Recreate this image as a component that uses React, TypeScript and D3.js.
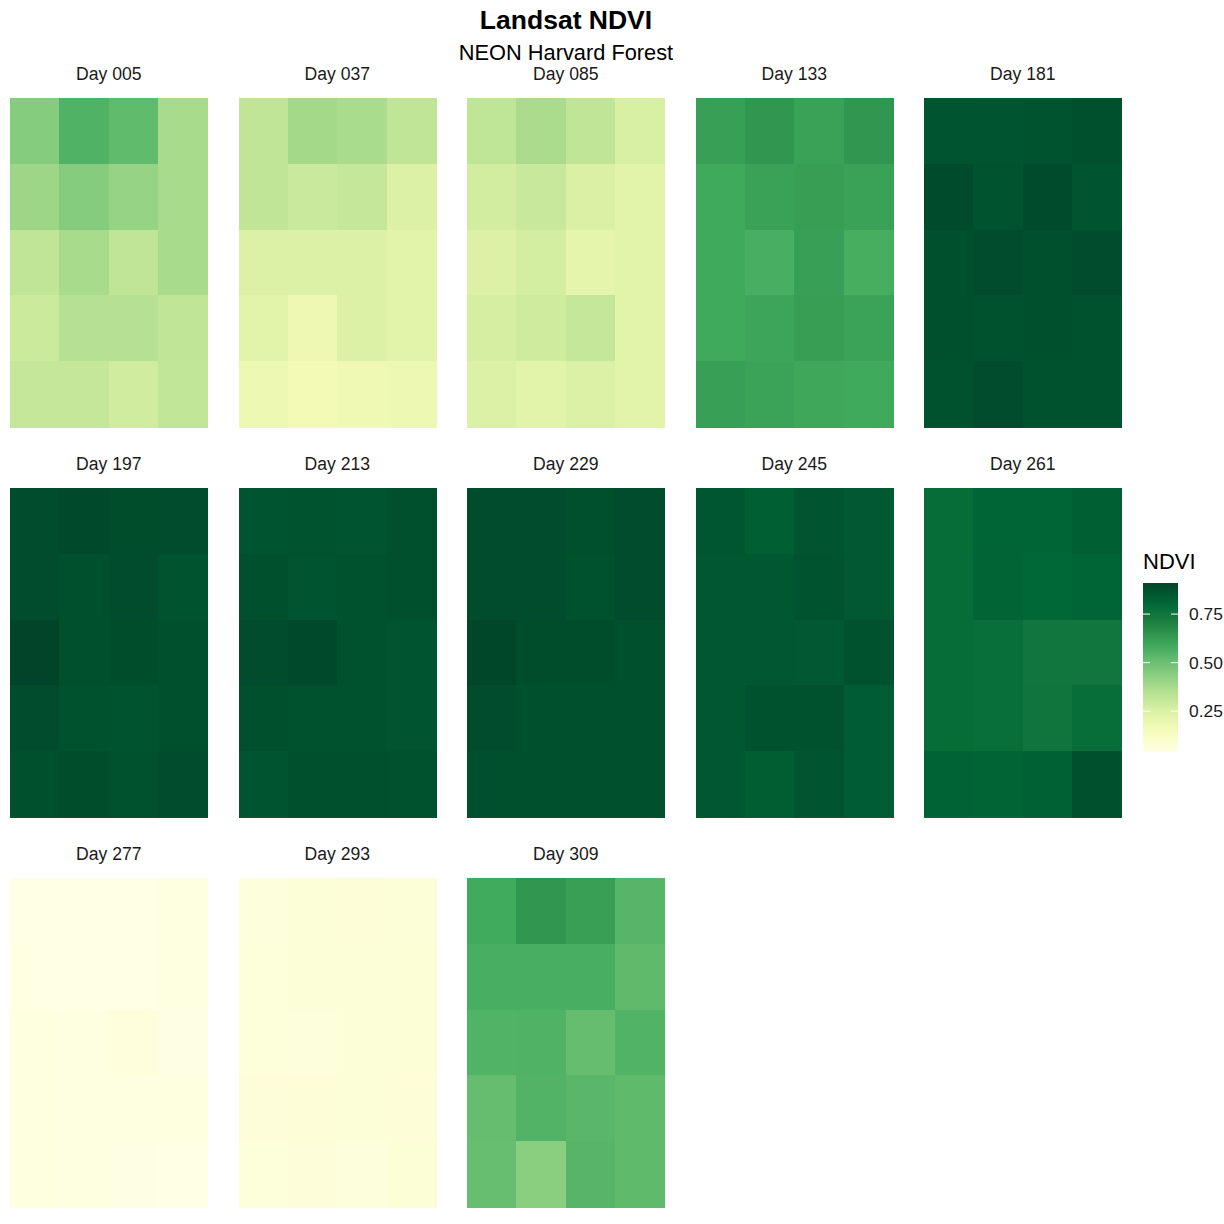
import React from "react";
import * as d3 from "d3";

const days = ["Day 005","Day 037","Day 085","Day 133","Day 181","Day 197","Day 213","Day 229","Day 245","Day 261","Day 277","Day 293","Day 309"];

// each panel: 5 rows (top to bottom) x 4 columns
const day005 = [[0.446,0.554,0.52,0.376],[0.40,0.446,0.413,0.376],[0.32,0.376,0.32,0.376],[0.293,0.344,0.344,0.32],[0.307,0.307,0.28,0.314]];
const day037 = [[0.32,0.385,0.372,0.32],[0.32,0.296,0.307,0.244],[0.25,0.25,0.247,0.225],[0.225,0.182,0.247,0.225],[0.185,0.167,0.174,0.185]];
const day085 = [[0.322,0.37,0.318,0.26],[0.275,0.30,0.255,0.225],[0.248,0.27,0.211,0.225],[0.267,0.285,0.307,0.225],[0.25,0.225,0.25,0.225]];
const day133 = [[0.615,0.643,0.609,0.643],[0.587,0.609,0.62,0.609],[0.59,0.57,0.615,0.572],[0.59,0.60,0.62,0.607],[0.615,0.607,0.595,0.59]];
const day181 = [[0.86,0.863,0.866,0.875],[0.89,0.866,0.89,0.86],[0.875,0.887,0.875,0.887],[0.876,0.874,0.876,0.874],[0.872,0.887,0.872,0.872]];
const day197 = [[0.887,0.895,0.884,0.887],[0.887,0.875,0.887,0.866],[0.91,0.875,0.884,0.878],[0.887,0.872,0.866,0.878],[0.88,0.884,0.872,0.887]];
const day213 = [[0.86,0.866,0.86,0.88],[0.875,0.863,0.869,0.88],[0.887,0.894,0.872,0.863],[0.88,0.872,0.872,0.863],[0.863,0.878,0.878,0.872]];
const day229 = [[0.887,0.887,0.88,0.887],[0.887,0.887,0.869,0.887],[0.905,0.884,0.884,0.878],[0.887,0.88,0.88,0.88],[0.878,0.878,0.878,0.879]];
const day245 = [[0.857,0.83,0.863,0.848],[0.851,0.851,0.866,0.848],[0.851,0.851,0.848,0.869],[0.851,0.872,0.872,0.84],[0.851,0.833,0.86,0.84]];
const day261 = [[0.783,0.81,0.81,0.83],[0.783,0.815,0.80,0.81],[0.783,0.775,0.748,0.748],[0.783,0.777,0.75,0.78],[0.818,0.815,0.823,0.878]];
const day277 = [[0.040,0.041,0.043,0.050],[0.042,0.043,0.046,0.050],[0.055,0.052,0.060,0.048],[0.058,0.050,0.052,0.055],[0.056,0.053,0.047,0.046]];
const day293 = [[0.065,0.075,0.072,0.075],[0.068,0.075,0.075,0.08],[0.068,0.062,0.075,0.077],[0.07,0.072,0.075,0.072],[0.068,0.07,0.065,0.078]];
const day309 = [[0.584,0.64,0.616,0.543],[0.57,0.57,0.57,0.524],[0.552,0.556,0.511,0.552],[0.511,0.55,0.535,0.524],[0.508,0.438,0.543,0.524]];

const panels = [day005, day037, day085, day133, day181, day197, day213, day229, day245, day261, day277, day293, day309];

const legendTicks = [0.25, 0.5, 0.75];
const ylgn = ["#ffffe5","#f7fcb9","#d9f0a3","#addd8e","#78c679","#41ab5d","#238443","#006837","#004529"];
const vMin = 0.04;
const vMax = 0.91;

const FONT = "'Liberation Sans', Arial, Helvetica, sans-serif";

export default function App() {
  const W = 1224, H = 1224;
  const color = d3.scaleLinear<string>()
    .domain(ylgn.map((_, i) => vMin + (i / (ylgn.length - 1)) * (vMax - vMin)))
    .range(ylgn)
    .interpolate(d3.interpolateRgb)
    .clamp(true);

  const panelW = 197.6, panelH = 329;
  const colStep = 228.5, rowStep = 390;
  const x0 = 10, y0 = 98;
  const xb = d3.scaleBand<number>().domain([0, 1, 2, 3]).range([0, panelW]).padding(0);
  const yb = d3.scaleBand<number>().domain([0, 1, 2, 3, 4]).range([0, panelH]).padding(0);

  const legX = 1143, legW = 35, legTop = 583, legBot = 752;
  const ly = d3.scaleLinear().domain([vMin, vMax]).range([legBot, legTop]);
  const stops = d3.range(0, 21).map(i => vMin + (i / 20) * (vMax - vMin));

  return (
    <svg width={W} height={H} style={{ position: "absolute", left: 0, top: 0, background: "#fff" }} fontFamily={FONT}>
      <defs>
        <linearGradient id="leg" x1="0" y1="1" x2="0" y2="0">
          {stops.map((v, i) => (
            <stop key={i} offset={`${(i / 20) * 100}%`} stopColor={color(v)} />
          ))}
        </linearGradient>
      </defs>
      <rect width={W} height={H} fill="#fff" />
      <text x={566} y={29} textAnchor="middle" fontSize={26.5} fontWeight="bold" fill="#000">Landsat NDVI</text>
      <text x={566} y={60} textAnchor="middle" fontSize={21.8} fill="#000">NEON Harvard Forest</text>
      {panels.map((grid, p) => {
        const c = p % 5, r = Math.floor(p / 5);
        const px = x0 + c * colStep, py = y0 + r * rowStep;
        return (
          <g key={p}>
            <text x={px + panelW / 2} y={py - 18.5} textAnchor="middle" fontSize={17.6} fill="#1a1a1a">{days[p]}</text>
            <g transform={`translate(${px},${py})`} shapeRendering="crispEdges">
              {grid.map((row, ri) =>
                row.map((v, ci) => (
                  <rect key={`${ri}-${ci}`} x={xb(ci)} y={yb(ri)} width={xb.bandwidth() + 0.5} height={yb.bandwidth() + 0.5} fill={color(v)} />
                ))
              )}
            </g>
          </g>
        );
      })}
      <text x={legX} y={569} fontSize={22} fill="#000">NDVI</text>
      <rect x={legX} y={legTop} width={legW} height={legBot - legTop} fill="url(#leg)" />
      {legendTicks.map(t => (
        <g key={t}>
          <line x1={legX} x2={legX + 7} y1={ly(t)} y2={ly(t)} stroke="#fff" strokeWidth={1} />
          <line x1={legX + legW - 7} x2={legX + legW} y1={ly(t)} y2={ly(t)} stroke="#fff" strokeWidth={1} />
          <text x={legX + 46} y={ly(t) + 6} fontSize={17.4} fill="#1a1a1a">{t.toFixed(2)}</text>
        </g>
      ))}
    </svg>
  );
}
